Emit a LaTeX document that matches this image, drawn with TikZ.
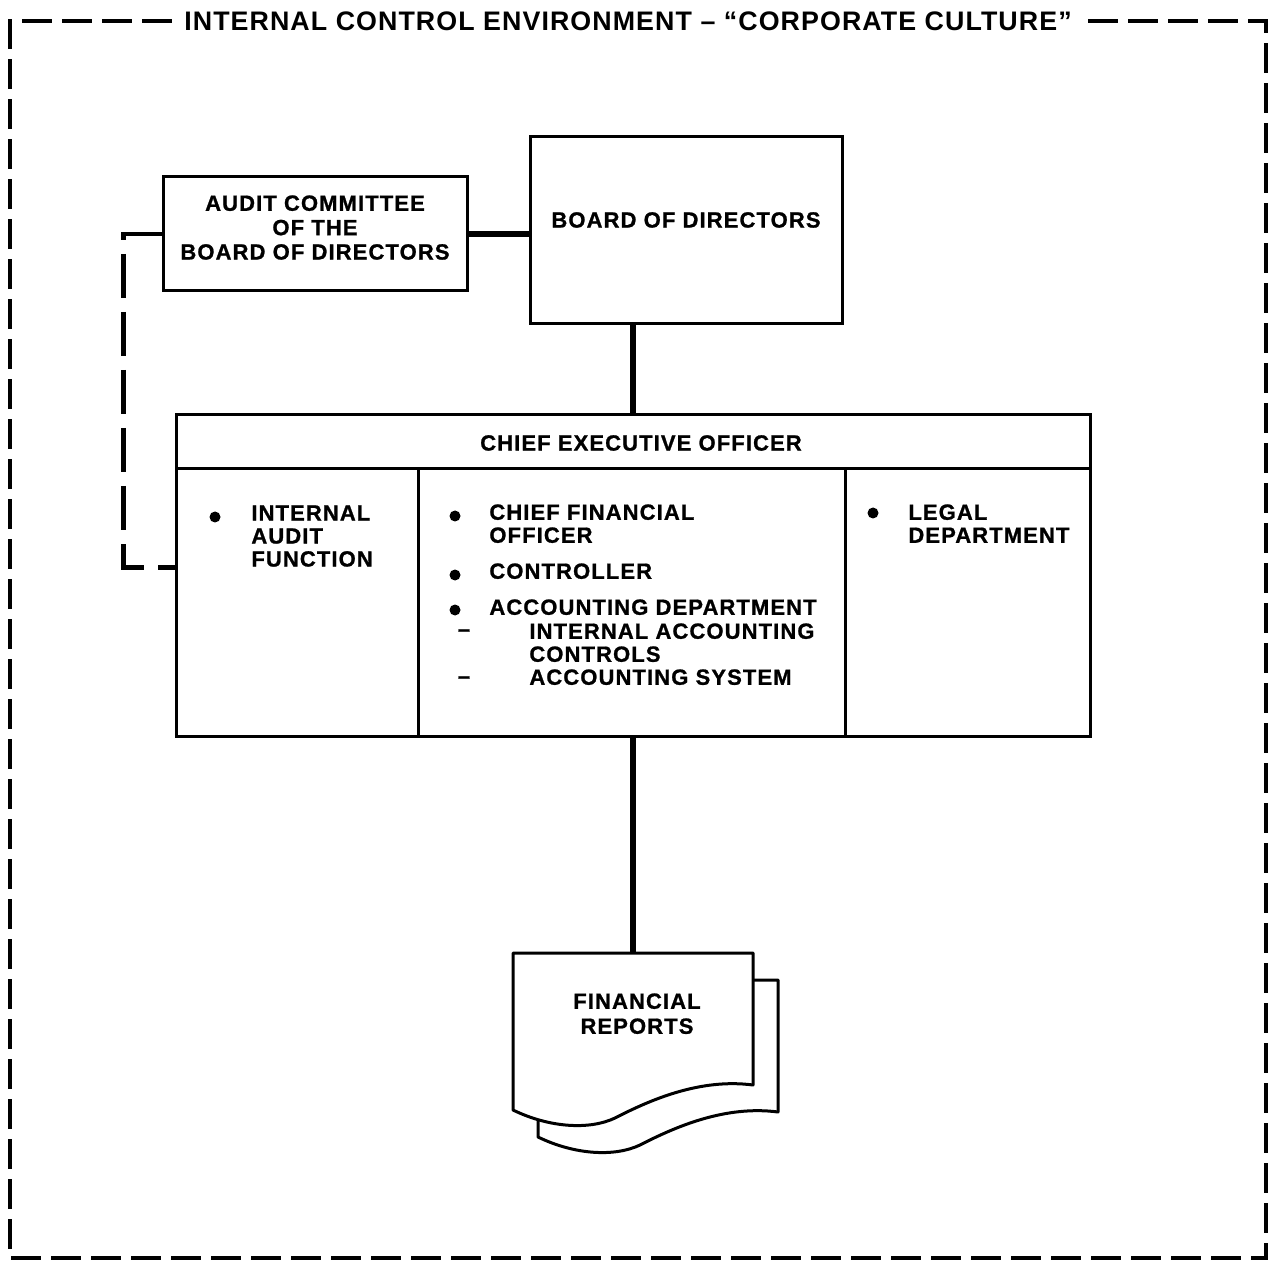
\documentclass[tikz,border=0pt]{standalone}
\usepackage{fontspec}
\setmainfont{Liberation Sans}
\newfontfamily\chartfont[LetterSpace=5, FakeBold=1]{Liberation Sans}
\newfontfamily\framefont[LetterSpace=4]{Liberation Sans}
\usetikzlibrary{positioning}

\tikzset{
  box/.style={draw, line width=1.5pt, inner sep=0pt},
  caps/.style={font=\chartfont\bfseries\fontsize{11}{11.5}\selectfont, inner sep=0pt},
  dot/.style={circle, fill, inner sep=0pt, minimum size=5.5pt},
  bar/.style={line width=2.9pt},
  frameline/.style={line width=2.4pt, dash pattern=on 15pt off 5pt},
  dashlink/.style={line width=2.2pt, dash pattern=on 22pt off 7pt},
  docline/.style={line width=1.5pt, line join=round}
}

\begin{document}
\begin{tikzpicture}[x=0.5pt, y=-0.5pt]
  \useasboundingbox (0,0) rectangle (1268,1261);

  % boxes
  \node[box, minimum width=152pt, minimum height=57pt] (audit) at (315,234) {};
  \node[box, minimum width=156pt, minimum height=93.5pt] (board) at (686,230.5) {};
  \node[box, minimum width=457pt, minimum height=27pt] (ceohead) at (633,442) {};
  \node[box, minimum width=121pt, minimum height=133.5pt] (colA) at (297,602.5) {};
  \node[box, minimum width=213.5pt, minimum height=133.5pt] (colB) at (631.5,602.5) {};
  \node[box, minimum width=122.5pt, minimum height=133.5pt] (colC) at (967.5,602.5) {};

  % labels
  \node[caps, align=center, anchor=north] (auditlbl) at (315,195)
    {AUDIT COMMITTEE\\[0.7pt]OF THE\\[0.7pt]BOARD OF DIRECTORS};
  \node[caps] (boardlbl) at (686,220) {BOARD OF DIRECTORS};
  \node[caps] (ceolbl) at (641,443) {CHIEF EXECUTIVE OFFICER};

  % bullets
  \foreach \name/\x/\y in {dA/215/517, dB/455/516, dC/455/575, dD/455/610, dE/873/513}
    \node[dot] (\name) at (\x,\y) {};

  \node[caps, align=left, anchor=north west] (iaf) at (251,505) {INTERNAL\\AUDIT\\FUNCTION};
  \node[caps, align=left, anchor=north west] (cfo) at (489,504) {CHIEF FINANCIAL\\OFFICER};
  \node[caps, anchor=north west] (ctrl) at (489,563) {CONTROLLER};
  \node[caps, anchor=north west] (acct) at (489,599) {ACCOUNTING DEPARTMENT};
  \node[caps] (dashA) at (464,633) {–};
  \node[caps, align=left, anchor=north west] (iac) at (529,623) {INTERNAL ACCOUNTING\\CONTROLS};
  \node[caps] (dashB) at (464,680) {–};
  \node[caps, anchor=north west] (asys) at (529,669) {ACCOUNTING SYSTEM};
  \node[caps, align=left, anchor=north west] (legal) at (908,504) {LEGAL\\DEPARTMENT};

  % financial reports
  \foreach \dx/\dy in {25/27, 0/0}
    \draw[docline, fill=white, shift={(\dx,\dy)}]
      (513,953) -- (753,953) -- (753,1085)
      .. controls (700,1078) and (650,1100) .. (615,1118)
      .. controls (590,1130) and (550,1128) .. (513,1110) -- cycle;
  \coordinate (doctop) at (633,953);
  \node[caps, align=center, anchor=north] (fin) at (637,993) {FINANCIAL\\[1pt]REPORTS};

  % connectors
  \draw[bar] (audit.east) -- (audit.east -| board.west);
  \draw[bar] (ceohead.north) -- (ceohead.north |- board.south);
  \draw[bar] (colB.south -| ceohead.north) -- (doctop);
  \draw[dashlink] (audit.west) -- ++(-38,0) |- ([yshift=17.5pt]colA.west);

  % frame
  \node[font=\framefont\bfseries\fontsize{13.4}{15}\selectfont, inner sep=6pt] (title) at (628,21)
    {INTERNAL CONTROL ENVIRONMENT – “CORPORATE CULTURE”};
  \draw[frameline] (title.west) -- (10,21) -- (10,1258) -- (1266,1258) -- (1266,21) -- (title.east);
\end{tikzpicture}
\end{document}
